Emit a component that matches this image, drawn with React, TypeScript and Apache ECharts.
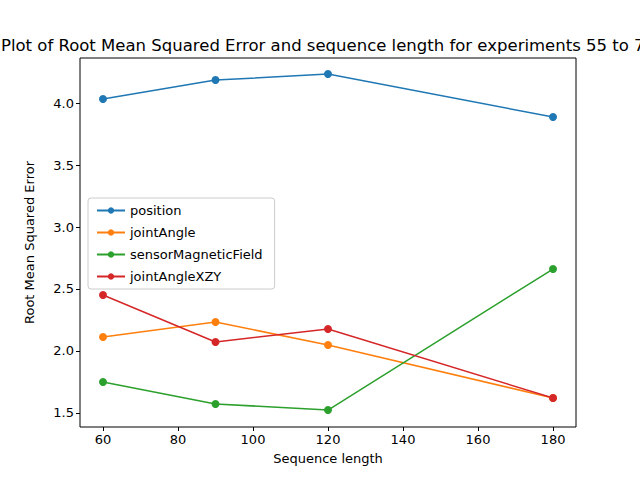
import React, { useEffect, useRef } from "react";
import * as echarts from "echarts";

const xs = [60, 90, 120, 180];
const position = [4.032, 4.185, 4.234, 3.887];
const jointAngle = [2.113, 2.234, 2.048, 1.621];
const sensorMagneticField = [1.75, 1.573, 1.524, 2.661];
const jointAngleXZY = [2.452, 2.073, 2.177, 1.621];
const xTicks = [60, 80, 100, 120, 140, 160, 180];
const yTicks = [1.5, 2.0, 2.5, 3.0, 3.5, 4.0];
const names = ["position", "jointAngle", "sensorMagneticField", "jointAngleXZY"];
const colors = ["#1f77b4", "#ff7f0e", "#2ca02c", "#d62728"];
const title = "Plot of Root Mean Squared Error and sequence length for experiments 55 to 74";

export default function App() {
  const ref = useRef<HTMLDivElement>(null);
  useEffect(() => {
    const chart = echarts.init(ref.current!, null, { renderer: "svg" });
    const all = [position, jointAngle, sensorMagneticField, jointAngleXZY];
    const font = "DejaVu Sans";
    chart.setOption({
      animation: false,
      textStyle: { fontFamily: font },
      grid: { left: 80, right: 64, top: 58, bottom: 53, show: true, borderColor: "#000", borderWidth: 1 },
      graphic: [{ type: "text", x: 328, y: 45, style: { text: title, font: `16.5px ${font}`, fill: "#000", align: "center", verticalAlign: "middle" } }],
      legend: {
        orient: "vertical", left: 88, top: 198, itemGap: 9, itemWidth: 28, itemHeight: 8,
        backgroundColor: "#fff", borderColor: "#ccc", borderWidth: 1, borderRadius: 3, padding: [6, 12, 6, 8],
        textStyle: { fontSize: 13, color: "#000", fontFamily: font },
        data: names,
      },
      xAxis: {
        type: "value", min: 53.87, max: 186.13,
        name: "Sequence length", nameLocation: "middle", nameGap: 25,
        nameTextStyle: { fontSize: 13, color: "#000" },
        splitLine: { show: false },
        axisLine: { show: false },
        axisTick: { show: true, length: 4, lineStyle: { color: "#000" }, customValues: xTicks },
        axisLabel: { fontSize: 13, color: "#000", margin: 6, customValues: xTicks },
      },
      yAxis: {
        type: "value", min: 1.387, max: 4.363,
        name: "Root Mean Squared Error", nameLocation: "middle", nameGap: 44,
        nameTextStyle: { fontSize: 13, color: "#000" },
        splitLine: { show: false },
        axisLine: { show: false },
        axisTick: { show: true, length: 4, lineStyle: { color: "#000" }, customValues: yTicks },
        axisLabel: { fontSize: 13, color: "#000", margin: 6, customValues: yTicks, formatter: (v: number) => v.toFixed(1) },
      },
      series: names.map((n, i) => ({
        name: n, type: "line", data: xs.map((x, j) => [x, all[i][j]]),
        symbol: "circle", symbolSize: 8, color: colors[i],
        lineStyle: { width: 1.5, color: colors[i] }, itemStyle: { color: colors[i] },
      })),
    });
    return () => chart.dispose();
  }, []);
  return <div ref={ref} style={{ position: "fixed", left: 0, top: 0, width: 640, height: 480, background: "#fff" }} />;
}
